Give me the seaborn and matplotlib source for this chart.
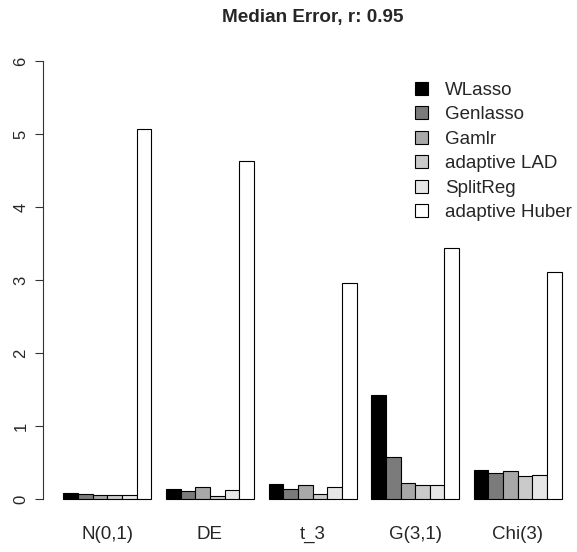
import matplotlib
matplotlib.use("Agg")
import matplotlib.pyplot as plt
import seaborn as sns
import pandas as pd

# distributions (groups) and methods (bars in each group)
groups = ["N(0,1)", "DE", "t_3", "G(3,1)", "Chi(3)"]
methods = ["WLasso", "Genlasso", "Gamlr", "adaptive LAD", "SplitReg", "adaptive Huber"]

# median error per method, one list per method, in group order
wlasso = [0.08, 0.14, 0.21, 1.42, 0.40]
genlasso = [0.07, 0.11, 0.14, 0.57, 0.36]
gamlr = [0.06, 0.16, 0.19, 0.22, 0.38]
adaptive_lad = [0.06, 0.04, 0.07, 0.19, 0.31]
splitreg = [0.06, 0.12, 0.16, 0.19, 0.33]
adaptive_huber = [5.07, 4.63, 2.96, 3.44, 3.11]

# R gray.colors(6, 0, 1)
grays = ["#000000", "#7B7B7B", "#A8A8A8", "#CACACA", "#E6E6E6", "#FFFFFF"]

values = [wlasso, genlasso, gamlr, adaptive_lad, splitreg, adaptive_huber]
rows = []
for m, vals in zip(methods, values):
    for g, v in zip(groups, vals):
        rows.append({"group": g, "method": m, "error": v})
df = pd.DataFrame(rows)

sns.set_style("white")
plt.rcParams['font.family'] = ['Liberation Sans', 'DejaVu Sans']

W, H = 577, 552
fig = plt.figure(figsize=(W / 100, H / 100), dpi=100)
# plot region in pixels: x 43.4..581.7, y 43.5..516.5
ax = fig.add_axes([43.4 / W, (H - 516.5) / H, (581.7 - 43.4) / W, (516.5 - 43.5) / H])

sns.barplot(data=df, x="group", y="error", hue="method", order=groups,
            hue_order=methods, palette=grays, width=6 / 7, gap=0,
            edgecolor="black", linewidth=0.8, saturation=1, ax=ax, legend=True)

# R style x range: bars at 1..35 (units of one bar), padded by 4%
ax.set_xlim(-3 / 7 - 1.36 / 7, -3 / 7 + 35.36 / 7)
ax.set_ylim(-0.24, 6.24)
ax.set_xlabel("")
ax.set_ylabel("")

for s in ["top", "right", "bottom"]:
    ax.spines[s].set_visible(False)
ax.spines["left"].set_bounds(0, 6)
ax.spines["left"].set_color("#333333")
ax.spines["left"].set_linewidth(0.8)

ax.set_yticks(range(7))
ax.set_yticklabels([str(i) for i in range(7)], rotation=90, va="center", fontsize=12)
ax.tick_params(axis="y", length=5.8, width=0.8, color="#333333", pad=5, left=True)
ax.tick_params(axis="x", length=0, pad=6.5, labelsize=13.5)

fig.text(313 / W, 1 - 17.5 / H, "Median Error, r: 0.95", ha="center", va="center",
         fontsize=13.6, fontweight="bold")

handles, labels = ax.get_legend_handles_labels()
ax.legend(handles, labels, loc="upper left", frameon=False,
          bbox_to_anchor=(415 / W, 1 - 82 / H), bbox_transform=fig.transFigure,
          borderaxespad=0, borderpad=0, fontsize=13.5, handlelength=0.69,
          handleheight=0.69, handletextpad=0.9, labelspacing=0.39)

fig.savefig("out.png", dpi=100)
